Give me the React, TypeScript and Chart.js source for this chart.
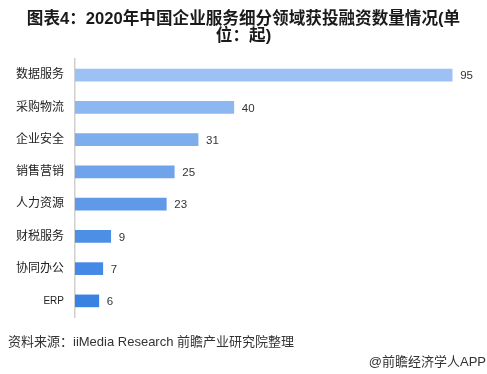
import React, { useEffect, useRef } from "react";
import { Chart, registerables } from "chart.js";

Chart.register(...registerables);

const categories = ["数据服务", "采购物流", "企业安全", "销售营销", "人力资源", "财税服务", "协同办公", "ERP"];
const values = [95, 40, 31, 25, 23, 9, 7, 6];
const barColors = ["#9BC1F5", "#8CB7F1", "#7EADEE", "#6FA3EB", "#5F99E8", "#4E8FE6", "#4489E5", "#3A82E2"];
const titleLines = ["图表4：2020年中国企业服务细分领域获投融资数量情况(单", "位：起)"];
const sourceText = "资料来源：iiMedia Research 前瞻产业研究院整理";
const creditText = "@前瞻经济学人APP";

const FONT = "'Liberation Sans', 'Noto Sans CJK SC', sans-serif";

export default function App() {
  const ref = useRef<HTMLCanvasElement | null>(null);

  useEffect(() => {
    if (!ref.current) return;
    const textPlugin = {
      id: "texts",
      afterDatasetsDraw(chart: any) {
        const ctx = chart.ctx;
        const meta = chart.getDatasetMeta(0);
        ctx.save();
        ctx.fillStyle = "#333";
        ctx.font = `11.5px ${FONT}`;
        ctx.textAlign = "left";
        ctx.textBaseline = "middle";
        meta.data.forEach((el: any, i: number) => {
          ctx.fillText(String(values[i]), el.x + 8, el.y + 1);
        });
        ctx.restore();
      },
      afterDraw(chart: any) {
        const ctx = chart.ctx;
        ctx.save();
        ctx.fillStyle = "#1a1a1a";
        ctx.textAlign = "center";
        ctx.textBaseline = "middle";
        ctx.font = `bold 16.6px ${FONT}`;
        ctx.fillText(titleLines[0], 243.5, 19);
        ctx.fillText(titleLines[1], 243.5, 36);
        ctx.fillStyle = "#333";
        ctx.font = `13px ${FONT}`;
        ctx.textAlign = "left";
        ctx.fillText(sourceText, 8, 342);
        ctx.textAlign = "right";
        ctx.fillText(creditText, 486, 362);
        ctx.restore();
      },
    };
    const chart = new Chart(ref.current, {
      type: "bar",
      data: {
        labels: categories,
        datasets: [
          {
            data: values,
            backgroundColor: barColors,
            barThickness: 12,
          },
        ],
      },
      options: {
        indexAxis: "y",
        responsive: false,
        animation: false,
        layout: { padding: { top: 59, bottom: 57, right: 15, left: 0 } },
        plugins: { legend: { display: false }, tooltip: { enabled: false } },
        scales: {
          x: { display: false, min: 0, max: 100 },
          y: {
            grid: { display: false, drawTicks: false },
            border: { color: "#d0d0d0", width: 1.5 },
            ticks: {
              color: "#222",
              padding: 11,
              font: (c: any) => ({ size: c.index === 7 ? 10 : 12, family: FONT }),
            },
            afterFit(scale: any) {
              scale.width = 75;
            },
          },
        },
      },
      plugins: [textPlugin],
    } as any);
    return () => chart.destroy();
  }, []);

  return (
    <div style={{ position: "fixed", left: 0, top: 0, width: 487, height: 374, background: "#fff" }}>
      <canvas ref={ref} width={487} height={374} />
    </div>
  );
}
